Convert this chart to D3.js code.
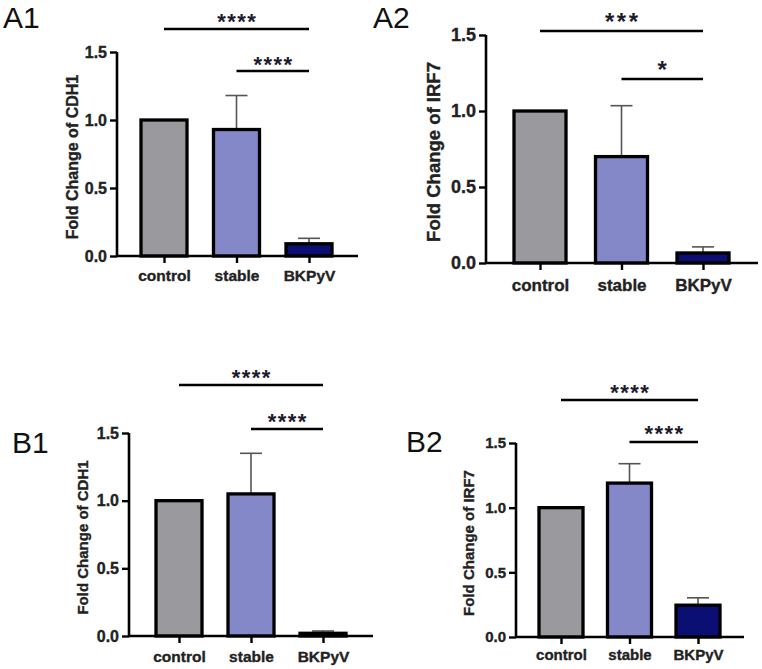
<!DOCTYPE html>
<html><head><meta charset="utf-8">
<script src="https://cdn.jsdelivr.net/npm/d3@7/dist/d3.min.js"></script>
<style>body{margin:0;background:#fff}svg{display:block}</style>
</head><body><div id="chart"></div>
<script>
// ---- data ----
const categories = ["control", "stable", "BKPyV"];
const yTickValues = [0, 0.5, 1.0, 1.5];
const yTickLabels = ["0.0", "0.5", "1.0", "1.5"];
const panelNames = ["A1", "A2", "B1", "B2"];
const yTitles = ["Fold Change of CDH1", "Fold Change of IRF7", "Fold Change of CDH1", "Fold Change of IRF7"];
const a1Means = [1.0, 0.93, 0.09];
const a1Errors = [0, 0.25, 0.04];
const a2Means = [1.0, 0.70, 0.066];
const a2Errors = [0, 0.335, 0.04];
const b1Means = [1.0, 1.05, 0.02];
const b1Errors = [0, 0.30, 0.017];
const b2Means = [1.0, 1.19, 0.246];
const b2Errors = [0, 0.15, 0.057];
// significance: [control vs BKPyV, stable vs BKPyV]
const sigPairs = [["control", "BKPyV"], ["stable", "BKPyV"]];
const a1Sig = ["****", "****"];
const a2Sig = ["***", "*"];
const b1Sig = ["****", "****"];
const b2Sig = ["****", "****"];
const barColors = ["#9a999e", "#8488c8", "#0b0e73"];

// ---- layout (positions / styles) ----
const panels = [
  {name: panelNames[0], title: yTitles[0], means: a1Means, errs: a1Errors, sig: a1Sig,
   lx: 3, ly: 28, ax: 117, y0: 256, y1: 52, xEnd: 358, c0: 164, c2: 309, bw: 46,
   sigY: [29, 71], starGap: [12, 11], tickFs: 16, catFs: 15.5, catY: 281, titleFs: 16, titleX: 72, starFs: 22, starLs: 1.5},
  {name: panelNames[1], title: yTitles[1], means: a2Means, errs: a2Errors, sig: a2Sig,
   lx: 373, ly: 28, ax: 486, y0: 263, y1: 35, xEnd: 758, c0: 540, c2: 703, bw: 52,
   sigY: [31, 79], starGap: [14, 14], tickFs: 18, catFs: 17, catY: 291, titleFs: 18.5, titleX: 434, starFs: 24, starLs: 2.5},
  {name: panelNames[2], title: yTitles[2], means: b1Means, errs: b1Errors, sig: b1Sig,
   lx: 12, ly: 453, ax: 129, y0: 636, y1: 433, xEnd: 373, c0: 179, c2: 323, bw: 46,
   sigY: [385, 429], starGap: [12, 12], tickFs: 16, catFs: 15.5, catY: 662, titleFs: 15, titleX: 83, starFs: 22, starLs: 1.5},
  {name: panelNames[3], title: yTitles[3], means: b2Means, errs: b2Errors, sig: b2Sig,
   lx: 406, ly: 452, ax: 516, y0: 637, y1: 443, xEnd: 744, c0: 561, c2: 698, bw: 44,
   sigY: [400, 442], starGap: [12, 13], tickFs: 15, catFs: 15, catY: 660, titleFs: 15, titleX: 469, starFs: 22, starLs: 1.5}
];

const W = 762, H = 669;
const svg = d3.select("#chart").append("svg").attr("width", W).attr("height", H)
  .style("font-family", "'Liberation Sans', Arial, sans-serif");

function heavy(sel) {
  return sel.style("font-weight", "bold").attr("fill", "#222")
    .attr("stroke", "#222").attr("stroke-width", 0.35)
    .style("font-family", "'Liberation Sans', Arial, sans-serif");
}

panels.forEach(p => {
  const g = svg.append("g");
  const y = d3.scaleLinear().domain([0, 1.5]).range([p.y0, p.y1]);
  const x = d3.scalePoint().domain(categories).range([p.c0, p.c2]);
  const color = d3.scaleOrdinal().domain(categories).range(barColors);

  // panel label
  svg.append("text").attr("x", p.lx).attr("y", p.ly)
    .style("font-family", "'Liberation Sans', sans-serif").style("font-size", "30px")
    .attr("fill", "#111").text(p.name);

  const rows = categories.map((c, i) => ({c, v: p.means[i], e: p.errs[i]}));
  // error bars (upward only)
  const eb = g.selectAll("g.eb").data(rows.filter(d => d.e > 0)).join("g");
  eb.append("line").attr("x1", d => x(d.c)).attr("x2", d => x(d.c))
    .attr("y1", d => y(d.v)).attr("y2", d => y(d.v + d.e))
    .attr("stroke", "#555").attr("stroke-width", 1.6);
  eb.append("line").attr("x1", d => x(d.c) - 11).attr("x2", d => x(d.c) + 11)
    .attr("y1", d => y(d.v + d.e)).attr("y2", d => y(d.v + d.e))
    .attr("stroke", "#555").attr("stroke-width", 1.6);

  // bars
  g.selectAll("rect.bar").data(rows).join("rect")
    .attr("x", d => x(d.c) - p.bw / 2).attr("width", p.bw)
    .attr("y", d => y(d.v)).attr("height", d => y(0) - y(d.v))
    .attr("fill", d => color(d.c)).attr("stroke", "#000").attr("stroke-width", 3.3);

  // y axis
  const yAxis = d3.axisLeft(y).tickValues(yTickValues)
    .tickFormat((d, i) => yTickLabels[i]).tickSize(7).tickPadding(3);
  const ya = g.append("g").attr("transform", `translate(${p.ax},0)`).call(yAxis);
  ya.select(".domain").attr("stroke", "#000").attr("stroke-width", 2.6)
    .attr("d", `M0,${p.y0 + 1}V${p.y1}`);
  ya.selectAll(".tick line").attr("stroke", "#000").attr("stroke-width", 2.4);
  heavy(ya.selectAll(".tick text")).style("font-size", p.tickFs + "px");

  // x axis
  const xs = d3.scaleLinear().domain([0, 1]).range([p.ax, p.xEnd]);
  const xAxis = d3.axisBottom(x).tickSize(7).tickPadding(6);
  const xa = g.append("g").attr("transform", `translate(0,${p.y0})`).call(xAxis);
  xa.select(".domain").attr("stroke", "#000").attr("stroke-width", 2.6)
    .attr("d", `M${xs(0)},0H${xs(1)}`);
  xa.selectAll(".tick line").attr("stroke", "#000").attr("stroke-width", 2.4);
  heavy(xa.selectAll(".tick text")).style("font-size", p.catFs + "px")
    .attr("dy", null).attr("y", p.catY - p.y0);

  // y title
  heavy(g.append("text").attr("transform", `translate(${p.titleX},${(p.y0 + p.y1) / 2 + 3}) rotate(-90)`)
    .attr("text-anchor", "middle").attr("dy", "0.35em"))
    .style("font-size", p.titleFs + "px")
    .text(p.title);

  // significance brackets
  sigPairs.forEach((pair, k) => {
    const ly = p.sigY[k];
    g.append("line").attr("x1", x(pair[0])).attr("x2", x(pair[1]))
      .attr("y1", ly).attr("y2", ly).attr("stroke", "#000").attr("stroke-width", 2.3);
    g.append("text").attr("x", (x(pair[0]) + x(pair[1])) / 2 + p.starLs / 2)
      .attr("y", ly - p.starGap[k] + 0.56 * p.starFs)
      .attr("text-anchor", "middle").style("font-size", p.starFs + "px").style("font-weight", "bold")
      .style("letter-spacing", p.starLs + "px").attr("fill", "#1c1c2c").text(p.sig[k]);
  });
});
</script></body></html>
